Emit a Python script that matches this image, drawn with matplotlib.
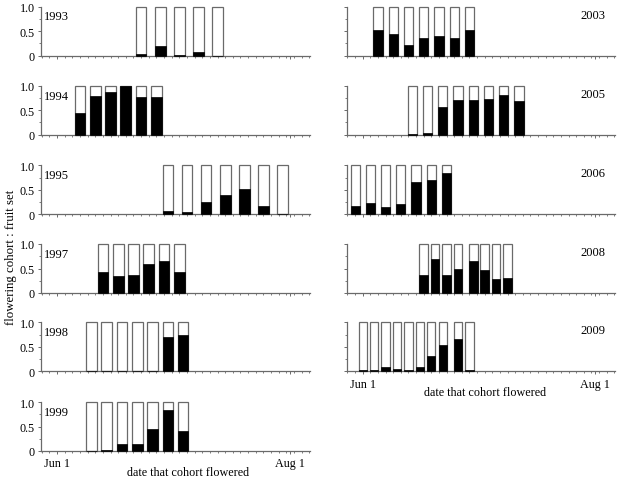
import matplotlib
matplotlib.use('Agg')
import matplotlib.pyplot as plt
from matplotlib.ticker import FixedLocator, MultipleLocator

plt.rcParams['font.family'] = ['Liberation Serif', 'DejaVu Serif']

# ---- data (x = days after Jun 1; y = fruit set of flowering cohort) ----
years_left = ['1993', '1994', '1995', '1997', '1998', '1999']
years_right = ['2003', '2005', '2006', '2008', '2009']

days_1993 = [22, 27, 32, 37, 42]
set_1993 = [0.03, 0.20, 0.01, 0.08, 0.0]
days_1994 = [6, 10, 14, 18, 22, 26]
set_1994 = [0.44, 0.78, 0.88, 1.0, 0.76, 0.76]
days_1995 = [29, 34, 39, 44, 49, 54, 59]
set_1995 = [0.07, 0.05, 0.26, 0.39, 0.52, 0.16, 0.01]
days_1997 = [12, 16, 20, 24, 28, 32]
set_1997 = [0.42, 0.35, 0.37, 0.60, 0.65, 0.43]
days_1998 = [9, 13, 17, 21, 25, 29, 33]
set_1998 = [0.0, 0.0, 0.0, 0.0, 0.01, 0.70, 0.74]
days_1999 = [9, 13, 17, 21, 25, 29, 33]
set_1999 = [0.0, 0.02, 0.15, 0.15, 0.44, 0.83, 0.40]

days_2003 = [4, 8, 12, 16, 20, 24, 28]
set_2003 = [0.53, 0.45, 0.22, 0.37, 0.40, 0.37, 0.52]
days_2005 = [13, 17, 21, 25, 29, 33, 37, 41]
set_2005 = [0.01, 0.03, 0.56, 0.70, 0.71, 0.72, 0.81, 0.69]
days_2006 = [-2, 2, 6, 10, 14, 18, 22]
set_2006 = [0.16, 0.24, 0.14, 0.21, 0.65, 0.70, 0.84]
days_2008 = [16, 19, 22, 25, 29, 32, 35, 38]
set_2008 = [0.37, 0.69, 0.37, 0.50, 0.65, 0.47, 0.28, 0.31]
days_2009 = [0, 3, 6, 9, 12, 15, 18, 21, 25, 28]
set_2009 = [0.03, 0.03, 0.08, 0.05, 0.02, 0.09, 0.32, 0.53, 0.66, 0.02]

data = {
    '1993': (days_1993, set_1993), '1994': (days_1994, set_1994),
    '1995': (days_1995, set_1995), '1997': (days_1997, set_1997),
    '1998': (days_1998, set_1998), '1999': (days_1999, set_1999),
    '2003': (days_2003, set_2003), '2005': (days_2005, set_2005),
    '2006': (days_2006, set_2006), '2008': (days_2008, set_2008),
    '2009': (days_2009, set_2009),
}
bar_width = {'1993': 2.8, '1994': 2.8, '1995': 2.8, '1997': 2.8, '1998': 2.8,
             '1999': 2.8, '2003': 2.4, '2005': 2.4, '2006': 2.4, '2008': 2.3,
             '2009': 2.2}

x_tick_vals = [0, 61]
x_tick_labels = ['Jun 1', 'Aug 1']
y_tick_vals = [0, 0.5, 1.0]
y_tick_labels = ['0', '0.5', '1.0']

# ---- layout ----
W, H = 617, 481
fig = plt.figure(figsize=(W / 100, H / 100), dpi=100)

row_zero_y = [56.7, 135.7, 215.3, 294.0, 372.3, 452.0]
panel_h = 49.0
XLIM = (-4.2, 66.2)
EDGE = '#6a6a6a'
FS = 8.7


def make_panel(x0, w, row, year, left_col, show_x):
    y0 = row_zero_y[row]
    ax = fig.add_axes([x0 / W, 1 - y0 / H, w / W, panel_h / H])
    days, vals = data[year]
    bw = bar_width[year]
    ax.bar(days, [1.0] * len(days), width=bw, color='white', edgecolor=EDGE,
           linewidth=0.9, clip_on=False, zorder=2)
    ax.bar(days, vals, width=bw, color='black', edgecolor='black',
           linewidth=0.5, clip_on=False, zorder=3)
    ax.set_xlim(*XLIM)
    ax.set_ylim(0, 1.0)
    for s in ['top', 'right']:
        ax.spines[s].set_visible(False)
    for s in ['left', 'bottom']:
        ax.spines[s].set_color(EDGE)
        ax.spines[s].set_linewidth(0.9)
    ax.xaxis.set_major_locator(FixedLocator(x_tick_vals))
    ax.xaxis.set_minor_locator(MultipleLocator(2))
    ax.yaxis.set_major_locator(FixedLocator(y_tick_vals))
    ax.yaxis.set_minor_locator(FixedLocator([0.25, 0.75]))
    ax.tick_params(which='major', length=2.5, width=0.7, color=EDGE,
                   labelsize=FS, pad=2)
    ax.tick_params(which='minor', length=1.5, width=0.6, color=EDGE)
    if show_x:
        ax.set_xticklabels(x_tick_labels)
    else:
        ax.set_xticklabels([])
    if left_col:
        ax.set_yticklabels(y_tick_labels)
        ax.text(0.012, 0.80, year, transform=ax.transAxes, fontsize=9,
                ha='left', va='center')
    else:
        ax.set_yticklabels([])
        ax.text(0.963, 0.84, year, transform=ax.transAxes, fontsize=9,
                ha='right', va='center')
    return ax


for i, yr in enumerate(years_left):
    make_panel(41, 269, i, yr, True, i == len(years_left) - 1)
for i, yr in enumerate(years_right):
    make_panel(346.7, 268.3, i, yr, False, i == len(years_right) - 1)

fig.text(11 / W, 1 - 257.5 / H, 'flowering cohort : fruit set', rotation=90,
         ha='center', va='center', fontsize=9.3)
fig.text(188 / W, 1 - 473 / H, 'date that cohort flowered',
         ha='center', va='center', fontsize=FS)
fig.text(485 / W, 1 - 393 / H, 'date that cohort flowered',
         ha='center', va='center', fontsize=FS)

fig.savefig('out.png', dpi=100)
